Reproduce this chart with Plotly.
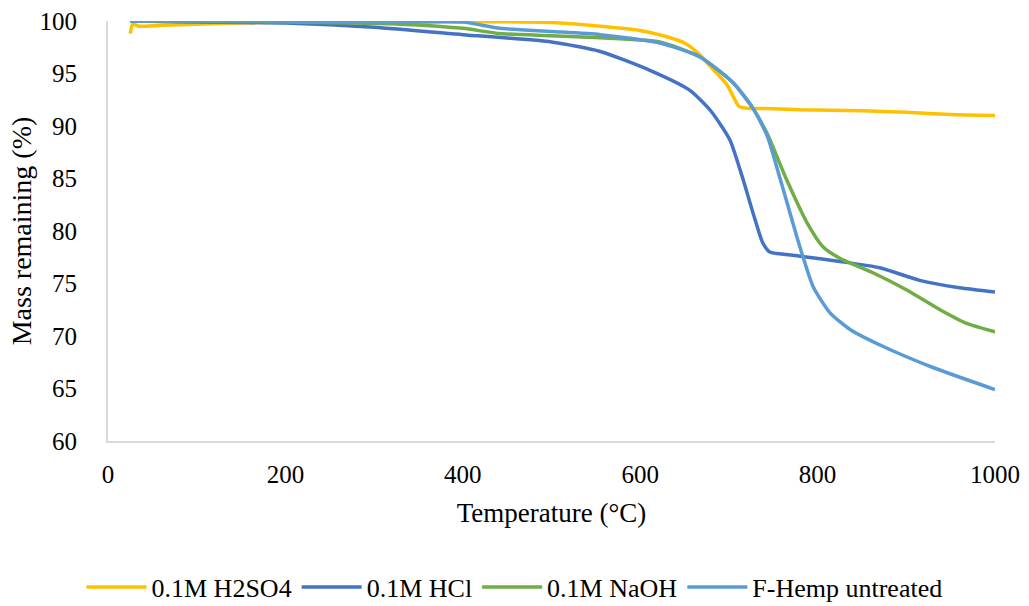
import plotly.graph_objects as go

# Data
t_h2so4 = [25, 28, 35, 60, 100, 150, 200, 300, 400, 500, 555, 600, 630, 650, 667, 680, 690, 698, 705, 711, 720, 750, 780, 850, 900, 950, 1000]
m_h2so4 = [98.8, 99.7, 99.5, 99.6, 99.7, 99.8, 99.9, 99.95, 99.95, 99.85, 99.5, 99.1, 98.5, 97.9, 96.8, 95.6, 94.7, 93.9, 92.8, 91.9, 91.7, 91.65, 91.55, 91.45, 91.3, 91.1, 91.0]

t_hcl = [25, 100, 200, 300, 400, 500, 555, 611, 656, 679, 701, 716, 728, 738, 746, 760, 780, 825, 870, 915, 960, 1000]
m_hcl = [100, 99.9, 99.8, 99.4, 98.7, 98.0, 97.1, 95.3, 93.4, 91.5, 88.7, 84.9, 81.5, 78.9, 78.0, 77.8, 77.6, 77.1, 76.5, 75.3, 74.6, 74.2]

t_naoh = [25, 100, 200, 329, 400, 442, 500, 555, 622, 667, 705, 727, 743, 765, 788, 806, 825, 863, 900, 938, 968, 1000]
m_naoh = [100, 99.95, 99.9, 99.7, 99.3, 98.8, 98.6, 98.4, 98.0, 96.6, 94.1, 91.7, 89.3, 84.9, 80.8, 78.5, 77.4, 76.0, 74.4, 72.5, 71.2, 70.4]

t_hemp = [25, 100, 200, 329, 400, 442, 500, 555, 622, 667, 705, 727, 743, 758, 780, 795, 814, 837, 874, 930, 1000]
m_hemp = [100, 100, 100, 99.9, 99.9, 99.3, 99.0, 98.7, 97.9, 96.6, 94.1, 91.7, 89.1, 84.9, 78.5, 74.7, 72.2, 70.6, 69.0, 67.0, 64.9]

series = [
    ("0.1M H2SO4", t_h2so4, m_h2so4, "#FFC000"),
    ("0.1M HCl", t_hcl, m_hcl, "#4472C4"),
    ("0.1M NaOH", t_naoh, m_naoh, "#70AD47"),
    ("F-Hemp untreated", t_hemp, m_hemp, "#5B9BD5"),
]

fig = go.Figure()
for name, t, m, c in series:
    fig.add_trace(go.Scatter(x=t, y=m, mode="lines", name=name,
                             line=dict(color=c, width=3.5, shape="spline", smoothing=0.6)))

fam = "Liberation Serif"
fig.update_layout(
    width=1029, height=606,
    margin=dict(l=108, r=34, t=21, b=165, autoexpand=False),
    paper_bgcolor="white", plot_bgcolor="white",
    font=dict(family=fam, color="#000000", size=25),
    showlegend=True,
    legend=dict(orientation="h", x=0.5, xanchor="center", xref="container",
                y=(606 - 587) / 606, yanchor="middle", yref="container",
                itemwidth=60,
                font=dict(family=fam, size=26), tracegroupgap=0),
    xaxis=dict(range=[0, 1000], dtick=200, tick0=0, showgrid=False, zeroline=False,
               showline=True, linecolor="#d9d9d9", linewidth=2, ticks="",
               automargin=False, ticklabelstandoff=10,
               tickfont=dict(family=fam, size=25),
               title=dict(text="Temperature (°C)", font=dict(family=fam, size=27), standoff=16)),
    yaxis=dict(range=[60, 100], dtick=5, tick0=60, showgrid=False, zeroline=False,
               showline=True, linecolor="#d9d9d9", linewidth=2, ticks="",
               automargin=False, ticklabelstandoff=24,
               tickfont=dict(family=fam, size=25),
               title=dict(text="Mass remaining (%)", font=dict(family=fam, size=28), standoff=0)),
)

fig.write_html("out.html")
